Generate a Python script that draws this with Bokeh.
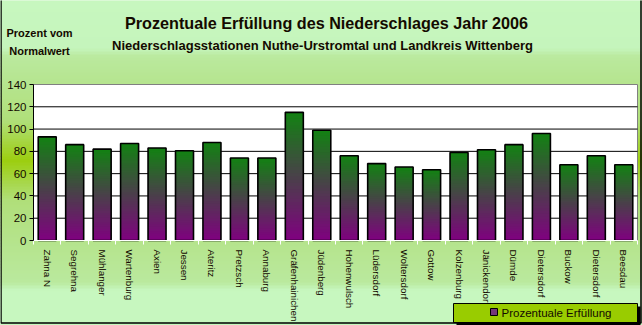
from bokeh.plotting import figure
from bokeh.models import FixedTicker, BoxAnnotation, Label, LinearAxis
from bokeh.embed import file_html
from bokeh.resources import INLINE

# ---- data ----
stations = ["Zahna N", "Segrehna", "Mühlanger", "Wartenburg", "Axien", "Jessen",
            "Ateritz", "Pretzsch", "Annaburg", "Gräfenhainichen", "Jüdenberg",
            "Hohenwulsch", "Lüdersdorf", "Woltersdorf", "Gottow", "Kolzenburg",
            "Jänickendorf", "Dümde", "Dietersdorf", "Buckow", "Dietersdorf", "Beesdau"]
prozent = [93, 86, 82, 87, 83, 80.5, 88, 74, 74, 115, 99,
           76, 69, 66, 63.5, 79, 81.5, 86, 96, 68, 76, 68]
y_ticks = [0, 20, 40, 60, 80, 100, 120, 140]

title_text = "Prozentuale Erfüllung des Niederschlages Jahr 2006"
subtitle_text = "Niederschlagsstationen Nuthe-Urstromtal und Landkreis Wittenberg"
ylabel_lines = ["Prozent vom", "Normalwert"]
legend_text = "Prozentuale Erfüllung"

W, H = 642, 325
FONT = "Liberation Sans"
TXT = "#140a00"
n = len(stations)
YMAX = 140

# plot-area placement on the page (pixels)
FL, FT, FW, FH = 33, 84, 604, 156
ux = FW / n          # px per category
uy = FH / YMAX       # px per percent

x0 = -0.5 - FL / ux
x1 = n - 0.5 + (W - FL - FW) / ux
y0 = -(H - FT - FH) / uy
y1 = YMAX + FT / uy

p = figure(frame_width=W, frame_height=H, min_border=0,
           x_range=(x0, x1), y_range=(y0, y1),
           x_axis_type=None, y_axis_type=None,
           output_backend="svg", toolbar_location=None,
           border_fill_color="#c6f6be", background_fill_color="#c6f6be",
           outline_line_color=None)
p.grid.visible = False


def dx(px):
    return x0 + px / ux


def dy(py):
    return y1 - py / uy


def box(l, r, t, b, fill, line=None, lw=1, level="annotation"):
    p.add_layout(BoxAnnotation(left=dx(l), right=dx(r), top=dy(t), bottom=dy(b),
                               fill_color=fill if fill else "white",
                               fill_alpha=1 if fill else 0,
                               line_color=line, line_alpha=1, line_width=lw, level=level))


# ---- background gradient bands ----
stops = [(0, (199, 247, 191)), (48, (197, 245, 188)), (56, (186, 233, 158)),
         (120, (176, 223, 122)), (160, (156, 206, 16)), (200, (176, 223, 122)),
         (282, (186, 233, 158)), (290, (199, 247, 191)), (325, (199, 247, 191))]


def grad(y):
    for (ya, c0), (yb, c1) in zip(stops[:-1], stops[1:]):
        if ya <= y <= yb:
            t = (y - ya) / (yb - ya) if yb > ya else 0
            return "#%02x%02x%02x" % tuple(int(round(a + (b - a) * t)) for a, b in zip(c0, c1))
    return "#c7f7bf"


step = 3
for y in range(0, H, step):
    box(-1, W + 1, y, y + step + 0.5, grad(y + step / 2), None, 1, "image")

# white plotting area with grey edge
p.add_layout(BoxAnnotation(left=-0.5, right=n - 0.5, bottom=0, top=YMAX,
                           fill_color="white", fill_alpha=1, line_color="#808080",
                           line_alpha=1, line_width=1, level="image"))

# grid lines
grid_vals = y_ticks[1:-1]
p.segment(x0=[-0.5] * len(grid_vals), x1=[n - 0.5] * len(grid_vals),
          y0=grid_vals, y1=grid_vals, line_color="black", line_width=1, level="underlay")

# ---- axes (library axes pinned to the plot-area edges) ----
yaxis = LinearAxis(fixed_location=-0.5, bounds=(0, YMAX), ticker=FixedTicker(ticks=y_ticks))
yaxis.axis_line_color = "black"
yaxis.major_tick_line_color = "black"
yaxis.major_tick_in = 0
yaxis.major_tick_out = 4
yaxis.minor_tick_line_color = None
yaxis.major_label_standoff = 3
yaxis.major_label_text_font = FONT
yaxis.major_label_text_font_size = "11.5px"
yaxis.major_label_text_color = TXT
p.add_layout(yaxis, "left")

centers = list(range(n))
xaxis = LinearAxis(fixed_location=0, bounds=(-0.5, n - 0.5),
                   ticker=FixedTicker(ticks=centers, minor_ticks=[i - 0.5 for i in range(n + 1)]))
xaxis.major_label_overrides = {i: s for i, s in enumerate(stations)}
xaxis.major_label_orientation = "vertical"
xaxis.axis_line_color = "white"
xaxis.major_tick_line_color = None
xaxis.minor_tick_line_color = "white"
xaxis.minor_tick_in = 0
xaxis.minor_tick_out = 4
xaxis.major_label_standoff = 3
xaxis.major_label_text_font = FONT
xaxis.major_label_text_font_size = "9.8px"
xaxis.major_label_text_color = TXT
p.add_layout(xaxis, "below")

# ---- gradient bars (green top -> purple bottom) ----
bw = 0.656
N = 40
top_c = (18, 130, 18)
bot_c = (128, 0, 128)
L, R, B, T, C = [], [], [], [], []
for x, v in zip(centers, prozent):
    for k in range(N):
        t = (k + 0.5) / N
        L.append(x - bw / 2)
        R.append(x + bw / 2)
        B.append(v * k / N)
        T.append(min(v, v * (k + 1.6) / N))
        C.append("#%02x%02x%02x" % tuple(int(round(b + (a - b) * t)) for a, b in zip(top_c, bot_c)))
p.quad(left=L, right=R, bottom=B, top=T, fill_color=C, line_color=None)
p.vbar(x=centers, top=prozent, width=bw, fill_color=None, line_color="black", line_width=1.6)


# ---- texts ----
def lab(text, x, y, size, bold=True, align="center"):
    p.add_layout(Label(x=dx(x), y=dy(y), text=text,
                       text_font=FONT, text_font_size=size,
                       text_font_style="bold" if bold else "normal",
                       text_color=TXT, text_align=align, text_baseline="middle"))


lab(title_text, 326, 22, "16.2px")
lab(subtitle_text, 322, 45, "13px")
lab(ylabel_lines[0], 39, 32, "11px")
lab(ylabel_lines[1], 39, 50, "11px")

# ---- legend (manual) ----
box(456, 640, 306, 325, "black")
box(453, 637, 303, 322, "#99cc00", "black", 1)
box(490, 497, 308, 315, "#74387a", "black", 1)
lab(legend_text, 501, 312, "11.5px", bold=False, align="left")

# outer border
box(0.5, 640.5, -2, 322.5, None, "black", 1.5)

open("out.html", "w").write(file_html(p, INLINE))
